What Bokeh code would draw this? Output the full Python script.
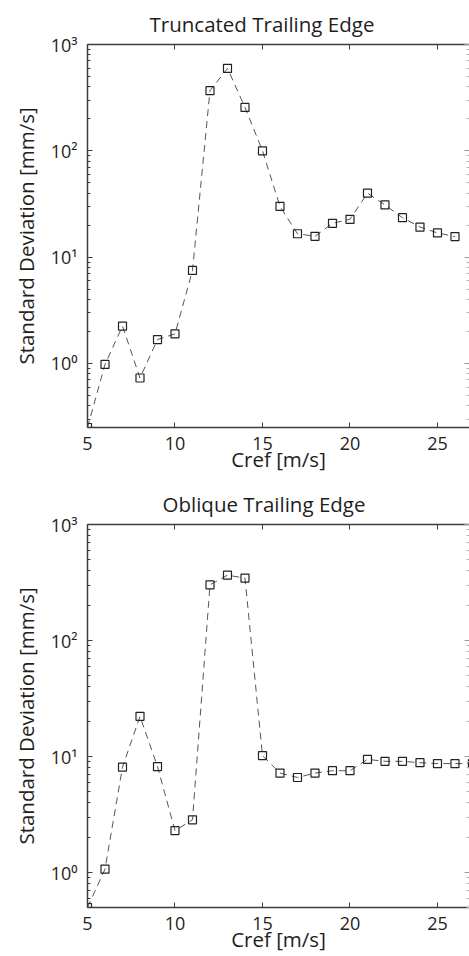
from bokeh.plotting import figure
from bokeh.layouts import column
from bokeh.models import LinearAxis, LogAxis, FixedTicker, Range1d
from bokeh.embed import file_html
from bokeh.resources import INLINE

# ---- data ----
cref_trunc = [5, 6, 7, 8, 9, 10, 11, 12, 13, 14, 15, 16, 17, 18, 19, 20, 21, 22, 23, 24, 25, 26]
std_trunc = [0.25, 0.98, 2.25, 0.73, 1.68, 1.9, 7.5, 368, 596, 256, 100, 30, 16.6, 15.7,
             20.8, 22.7, 40, 31, 23.5, 19.2, 16.9, 15.6]
cref_obl = [5, 6, 7, 8, 9, 10, 11, 12, 13, 14, 15, 16, 17, 18, 19, 20, 21, 22, 23, 24, 25, 26, 27]
std_obl = [0.5, 1.07, 8.1, 22.2, 8.2, 2.3, 2.85, 302, 366, 345, 10.2, 7.2, 6.6, 7.2,
           7.55, 7.55, 9.45, 9.1, 9.1, 8.85, 8.7, 8.7, 8.7]

titles = ["Truncated Trailing Edge", "Oblique Trailing Edge"]
x_label = "Cref [m/s]"
y_label = "Standard Deviation [mm/s]"
xticks = [5, 10, 15, 20, 25]
yticks = [1, 10, 100, 1000]
ytick_labels = ["10\u2070", "10\u00b9", "10\u00b2", "10\u00b3"]
yminor = [m * 10.0 ** d for d in (-1, 0, 1, 2) for m in range(2, 10)]

FONT = "Open Sans"
TXT = "#1e1e1e"
SPINE = "#3c3c3c"


def make(title, title_offset, xs, ys, ymin, height, bottom):
    p = figure(width=469, height=height, x_range=Range1d(5, 26.83), y_range=Range1d(ymin, 1000),
               y_axis_type="log", output_backend="svg", toolbar_location=None,
               min_border_left=87, min_border_right=0, min_border_top=44,
               min_border_bottom=bottom, title=title)
    p.outline_line_color = None
    p.grid.visible = False

    p.title.text_font = FONT
    p.title.text_font_size = "20.5px"
    p.title.text_font_style = "normal"
    p.title.text_color = TXT
    p.title.align = "left"
    p.title.offset = title_offset
    p.title.standoff = 13

    xt = FixedTicker(ticks=xticks)
    yt = FixedTicker(ticks=yticks, minor_ticks=yminor)

    xa = p.xaxis[0]
    xa.ticker = xt
    xa.major_tick_in = 5
    xa.major_tick_out = 0
    xa.minor_tick_in = 0
    xa.minor_tick_out = 0
    xa.axis_line_color = SPINE
    xa.axis_line_width = 1.5
    xa.major_tick_line_color = SPINE
    xa.major_label_text_font = FONT
    xa.major_label_text_font_size = "18px"
    xa.major_label_text_color = TXT
    xa.major_label_standoff = 9
    xa.axis_label = x_label
    xa.axis_label_text_font = FONT
    xa.axis_label_text_font_size = "20.5px"
    xa.axis_label_text_font_style = "normal"
    xa.axis_label_text_color = TXT
    xa.axis_label_standoff = -8

    ya = p.yaxis[0]
    ya.ticker = yt
    ya.major_tick_in = 5
    ya.major_tick_out = 0
    ya.minor_tick_in = 3
    ya.minor_tick_out = 0
    ya.axis_line_color = SPINE
    ya.axis_line_width = 1.5
    ya.major_tick_line_color = SPINE
    ya.minor_tick_line_color = SPINE
    ya.major_label_text_font = FONT
    ya.major_label_text_font_size = "18px"
    ya.major_label_text_color = TXT
    ya.major_label_standoff = 10
    ya.major_label_overrides = {float(t): s for t, s in zip(yticks, ytick_labels)}
    ya.axis_label = y_label
    ya.axis_label_text_font = FONT
    ya.axis_label_text_font_size = "20.5px"
    ya.axis_label_text_font_style = "normal"
    ya.axis_label_text_color = TXT
    ya.axis_label_standoff = 8

    top = LinearAxis(ticker=xt, major_label_standoff=0, major_label_text_color=None,
                     major_label_text_font_size="1px",
                     major_label_overrides={float(t): "" for t in xticks},
                     major_tick_in=5, major_tick_out=0, minor_tick_in=0, minor_tick_out=0,
                     axis_line_color=SPINE, axis_line_width=1.5, major_tick_line_color=SPINE)
    p.add_layout(top, "above")

    right = LogAxis(ticker=yt, major_label_standoff=0, major_label_text_color=None,
                    major_label_text_font_size="1px",
                    major_label_overrides={float(t): "" for t in yticks},
                    major_tick_in=5, major_tick_out=0, minor_tick_in=3, minor_tick_out=0,
                    axis_line_color=None, major_tick_line_color="#9a9a9a",
                    minor_tick_line_color="#b0b0b0")
    p.add_layout(right, "right")

    p.line(xs, ys, line_color="#555555", line_width=1, line_dash="7 5")
    p.scatter(xs, ys, marker="square", size=8, fill_color=None, line_color="#222222",
              line_width=1.2)
    return p


p1 = make(titles[0], 62, cref_trunc, std_trunc, 0.25, 480, 53)
p2 = make(titles[1], 75, cref_obl, std_obl, 0.5, 476, 49)
layout = column(p1, p2, spacing=0)

open("out.html", "w").write(file_html(layout, INLINE))
